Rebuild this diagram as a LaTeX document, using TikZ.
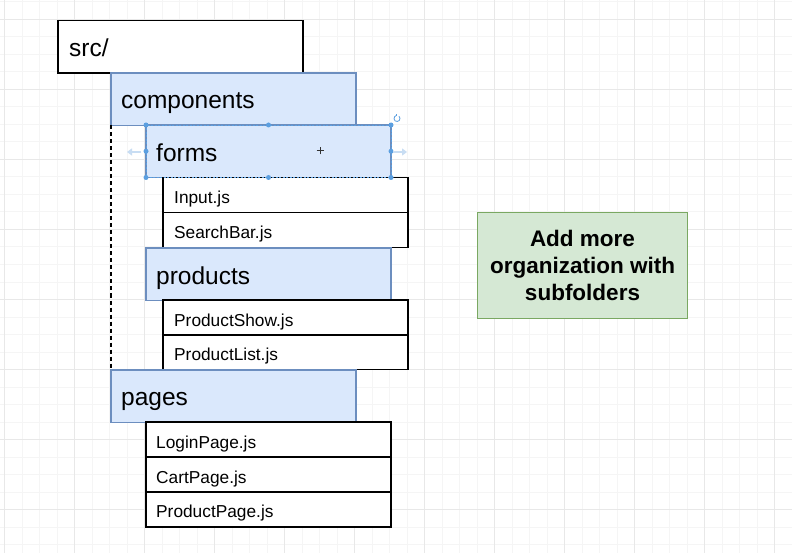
\documentclass[tikz,border=0pt]{standalone}
\usepackage{fontspec}
\setmainfont{Liberation Sans}
\usetikzlibrary{arrows.meta}
\definecolor{gridminor}{HTML}{F5F5F5}
\definecolor{gridmajor}{HTML}{E8E8E8}
\definecolor{bluefill}{HTML}{DAE8FC}
\definecolor{bluedraw}{HTML}{6C8EBF}
\definecolor{greenfill}{HTML}{D5E8D4}
\definecolor{greendraw}{HTML}{7AA862}
\definecolor{handle}{HTML}{5B9FE0}
\definecolor{handlelight}{HTML}{C8DDF3}
\begin{document}
\begin{tikzpicture}[x=1pt,y=-1pt,
  box/.style={rectangle, inner sep=0pt, outer sep=0pt, anchor=north west},
  folder/.style={box, fill=bluefill, draw=bluedraw, line width=1.1pt, minimum width=245pt, minimum height=52.5pt},
  rootbox/.style={box, fill=white, draw=black, line width=1.2pt, minimum width=245pt, minimum height=52.5pt},
  filebox/.style={box, fill=white, draw=black, line width=1.2pt, minimum width=245pt, minimum height=35pt},
  flabel/.style={anchor=base west, inner sep=0pt, font=\fontsize{24.5}{28}\selectfont},
  plabel/.style={anchor=base west, inner sep=0pt, font=\fontsize{17.3}{20}\selectfont},
  note/.style={rectangle, fill=greenfill, draw=greendraw, line width=1.4pt, minimum width=210pt, minimum height=106pt, align=center, inner sep=0pt, font=\bfseries\fontsize{22.5}{26.7}\selectfont},
  treeline/.style={draw=black, line width=1.3pt, dash pattern=on 4pt off 3pt},
  dot/.style={circle, fill=handle, inner sep=0pt, minimum size=5pt},
  hint/.style={draw=handlelight, line width=1.6pt, -{Triangle[length=5pt,width=7pt]}}
]
\useasboundingbox (0,0) rectangle (792,553);
\fill[white] (0,0) rectangle (792,553);
% grid
\foreach \k in {0,...,45} {\draw[gridminor, line width=0.6pt] ({4.3+17.5*\k},0) -- ({4.3+17.5*\k},553);}
\foreach \k in {0,...,32} {\draw[gridminor, line width=0.6pt] (0,{1.8+17.5*\k}) -- (792,{1.8+17.5*\k});}
\foreach \k in {0,...,11} {\draw[gridmajor, line width=0.8pt] ({4.3+70*\k},0) -- ({4.3+70*\k},553);}
\foreach \k in {0,...,7} {\draw[gridmajor, line width=0.8pt] (0,{19.3+70*\k}) -- (792,{19.3+70*\k});}

% boxes
\node[rootbox] (src) at (58,20.5) {};
\node[flabel] (srct) at (69,57) {src/};

\node[folder] (comp) at (111,73) {};
\node[flabel] (compt) at (121,108.5) {components};

\node[folder] (forms) at (146,125) {};
\node[flabel] (formst) at (156,162) {forms};

\node[filebox] (input) at (163,177.5) {};
\node[plabel] (inputt) at (174,204) {Input.js};
\node[filebox] (search) at (163,212.5) {};
\node[plabel] (searcht) at (174,239) {SearchBar.js};

\node[folder] (prod) at (146,248) {};
\node[flabel] (prodt) at (156,284) {products};

\node[filebox] (pshow) at (163,300) {};
\node[plabel] (pshowt) at (174,326) {ProductShow.js};
\node[filebox, minimum height=34.5pt] (plist) at (163,335) {};
\node[plabel] (plistt) at (174,360) {ProductList.js};

\node[folder] (pages) at (111,370) {};
\node[flabel] (pagest) at (121,405.5) {pages};

\node[filebox] (login) at (146,422) {};
\node[plabel] (logint) at (156,448.5) {LoginPage.js};
\node[filebox] (cart) at (146,457) {};
\node[plabel] (cartt) at (156,483) {CartPage.js};
\node[filebox] (ppage) at (146,492) {};
\node[plabel] (ppaget) at (156,517.5) {ProductPage.js};

% tree line
\draw[treeline] (comp.south west) -- (pages.north west);

% note
\node[note] (noteb) at (582.5,265.3) {Add more\\organization with\\subfolders};

% selection decorations on "forms"
\draw[handle, line width=0.6pt, dash pattern=on 2pt off 1.5pt] (forms.north west) rectangle (forms.south east);
\foreach \a in {north west,north,north east,east,south east,south,south west,west}
  {\node[dot] at (forms.\a) {};}
\coordinate (la) at (141,152);
\coordinate (lb) at (127,152);
\coordinate (ra) at (393,152);
\coordinate (rb) at (407,152);
\draw[hint] (la) -- (lb);
\draw[hint] (ra) -- (rb);
\coordinate (rot) at (397,118.5);
\draw[handle, line width=0.8pt] (rot) ++(-50:3) arc[start angle=-50, end angle=250, radius=3];
\draw[handle, line width=0.8pt] (rot) ++(250:3) -- ++(0,-2);
\coordinate (cur) at (320,151);
\draw[black!80, line width=1pt] ([xshift=-3.5pt]cur) -- ([xshift=3.5pt]cur);
\draw[black!80, line width=1pt] ([yshift=-3.5pt]cur) -- ([yshift=3.5pt]cur);
\end{tikzpicture}
\end{document}
